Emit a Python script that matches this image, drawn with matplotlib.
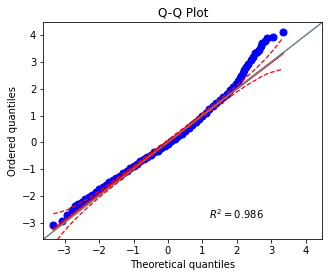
import numpy as np
import matplotlib.pyplot as plt

# Q-Q plot values
theor = [-3.33, -3.08, -2.92, -2.79, -2.71, -2.65,
         -2.6, -2.5, -2.4, -2.3, -2.2, -2.1, -2.0, -1.9, -1.8, -1.7,
         -1.6, -1.5, -1.4, -1.3, -1.2, -1.1, -1.0, -0.9, -0.8, -0.7,
         -0.6, -0.5, -0.4, -0.3, -0.2, -0.1, 0.0, 0.1, 0.2, 0.3,
         0.4, 0.5, 0.6, 0.7, 0.8, 0.9, 1.0, 1.1, 1.2, 1.3,
         1.4, 1.5, 1.6, 1.7, 1.8, 1.9,
         1.97, 2.03, 2.08, 2.13, 2.18, 2.22, 2.27, 2.33, 2.42, 2.47,
         2.52, 2.58, 2.64, 2.69, 2.74, 2.81, 2.88, 3.05, 3.33]
observed = [-3.07, -2.93, -2.73, -2.52, -2.39, -2.35,
            -2.29, -2.21, -2.12, -2.04, -1.95, -1.85, -1.76, -1.67, -1.58, -1.49,
            -1.42, -1.33, -1.24, -1.15, -1.06, -0.97, -0.89, -0.80, -0.71, -0.63,
            -0.55, -0.46, -0.38, -0.31, -0.23, -0.14, -0.05, 0.04, 0.13, 0.23,
            0.31, 0.41, 0.52, 0.64, 0.76, 0.88, 1.00, 1.11, 1.23, 1.35,
            1.47, 1.59, 1.71, 1.82, 1.94, 2.06,
            2.16, 2.28, 2.39, 2.48, 2.58, 2.70, 2.82, 2.93, 3.07, 3.20,
            3.32, 3.38, 3.44, 3.58, 3.71, 3.80, 3.88, 3.94, 4.10]

# regression line and confidence envelope
fit_x = [-3.33, 3.33]
fit_y = [-3.25, 3.31]
band_x = [-3.33, -3.1, -2.9, -2.7, -2.5, -2.25, -2.0, -1.5, -1.0, 0.0,
          1.0, 1.5, 2.0, 2.25, 2.5, 2.7, 2.9, 3.1, 3.33]
band_upper = [-2.67, -2.59, -2.51, -2.38, -2.23, -2.04, -1.82, -1.36, -0.89, 0.09,
              1.08, 1.60, 2.12, 2.40, 2.69, 2.94, 3.21, 3.51, 3.89]
band_lower = [-3.83, -3.45, -3.15, -2.88, -2.63, -2.34, -2.06, -1.54, -1.02, -0.03,
              0.95, 1.42, 1.88, 2.10, 2.29, 2.44, 2.57, 2.65, 2.73]
r2 = 0.986
lims = [-3.62, 4.48]

fig = plt.figure(figsize=(329 / 72, 278 / 72), dpi=72)
ax = fig.add_axes([0.1316, 0.1392, 0.848, 0.7806])

ax.plot(theor, observed, "bo", ms=7)
ax.plot(fit_x, fit_y, "r-", lw=2)
ax.plot(lims, lims, color="slategrey", lw=1.5)
ax.plot(band_x, band_upper, "r--", lw=1.25)
ax.plot(band_x, band_lower, "r--", lw=1.25)

ax.set_xlim(lims)
ax.set_ylim(lims)
ax.set_xlabel("Theoretical quantiles")
ax.set_ylabel("Ordered quantiles")
ax.set_title("Q-Q Plot")
ax.text(0.79, 0.115, r"$R^2=%.3f$" % r2, ha="right", va="center",
        transform=ax.transAxes)

plt.savefig("out.png", dpi=72)
plt.close()
